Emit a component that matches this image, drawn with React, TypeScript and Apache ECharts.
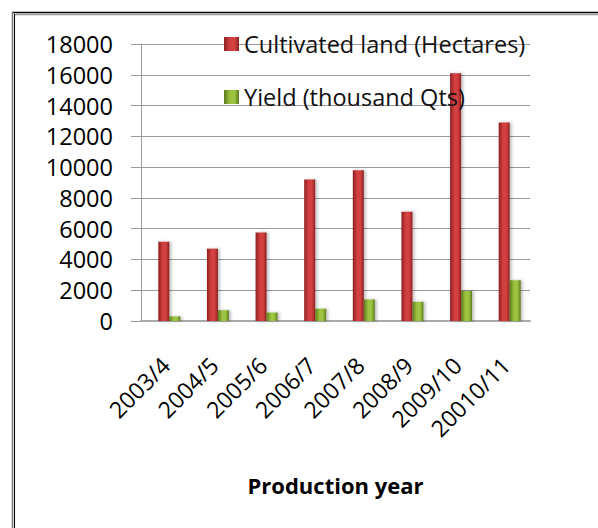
import React, { useEffect, useRef } from "react";
import * as echarts from "echarts";

const categories = ["2003/4", "2004/5", "2005/6", "2006/7", "2007/8", "2008/9", "2009/10", "20010/11"];
const cultivatedLand = [5150, 4700, 5750, 9200, 9800, 7100, 16100, 12900];
const yieldQts = [300, 700, 550, 800, 1400, 1250, 1950, 2650];
const seriesNames = ["Cultivated land (Hectares)", "Yield (thousand Qts)"];
const xAxisTitle = "Production year";
const spacer = categories.map(() => null);

const FONT = "'Open Sans', Lato, sans-serif";

function hGrad(dark: string, light: string) {
  return new echarts.graphic.LinearGradient(0, 0, 1, 0, [
    { offset: 0, color: dark },
    { offset: 0.4, color: light },
    { offset: 0.7, color: light },
    { offset: 1, color: dark },
  ]);
}

export default function App() {
  const ref = useRef<HTMLDivElement>(null);
  useEffect(() => {
    if (!ref.current) return;
    const chart = echarts.init(ref.current, undefined, { renderer: "svg" });
    chart.setOption({
      animation: false,
      backgroundColor: "#fff",
      textStyle: { fontFamily: FONT },
      grid: { left: 141, right: 68, top: 44, bottom: 207, containLabel: false },
      legend: {
        orient: "vertical",
        left: 219,
        top: 27,
        itemWidth: 15,
        itemHeight: 14,
        itemGap: 29,
        icon: "rect",
        textStyle: { fontSize: 23.5, color: "#111", fontFamily: FONT },
        data: seriesNames,
      },
      xAxis: {
        type: "category",
        data: categories,
        name: xAxisTitle,
        nameLocation: "middle",
        nameGap: 153,
        nameTextStyle: { fontSize: 22, fontWeight: "bold", color: "#000", fontFamily: FONT },
        axisLine: { show: true, lineStyle: { color: "#aaa", width: 2 } },
        axisTick: { show: false },
        axisLabel: { rotate: 45, margin: 40, fontSize: 23, color: "#000", fontFamily: FONT },
      },
      yAxis: {
        type: "value",
        min: 0,
        max: 18000,
        interval: 2000,
        axisLine: { show: true, lineStyle: { color: "#999", width: 1 } },
        axisTick: { show: true, length: 10, lineStyle: { color: "#999" } },
        splitLine: { show: true, lineStyle: { color: "#999", width: 1 } },
        axisLabel: {
          fontSize: 23.5,
          color: "#000",
          margin: 28,
          fontFamily: FONT,
          formatter: (v: number) => String(v),
        },
      },
      series: [
        {
          name: "spacer",
          type: "bar",
          data: spacer,
          barWidth: 8,
          barGap: "0%",
          silent: true,
          itemStyle: { color: "transparent" },
        },
        {
          name: seriesNames[0],
          type: "bar",
          data: cultivatedLand,
          barWidth: 11,
          barGap: "0%",
          itemStyle: {
            color: hGrad("#8e1f20", "#d2403f"),
            shadowColor: "rgba(0,0,0,0.25)",
            shadowBlur: 3,
            shadowOffsetX: 2,
          },
        },
        {
          name: seriesNames[1],
          type: "bar",
          data: yieldQts,
          barWidth: 11,
          barGap: "0%",
          itemStyle: {
            color: hGrad("#5b7a1c", "#9cc440"),
            shadowColor: "rgba(0,0,0,0.25)",
            shadowBlur: 3,
            shadowOffsetX: 2,
          },
        },
      ],
      graphic: [
        { type: "line", shape: { x1: 12, y1: 12.5, x2: 598, y2: 12.5 }, style: { stroke: "#000", lineWidth: 1.5 } },
        { type: "line", shape: { x1: 14, y1: 14.5, x2: 598, y2: 14.5 }, style: { stroke: "#999", lineWidth: 1.5 } },
        { type: "line", shape: { x1: 12.5, y1: 12, x2: 12.5, y2: 528 }, style: { stroke: "#777", lineWidth: 1.5 } },
        { type: "line", shape: { x1: 14.5, y1: 14, x2: 14.5, y2: 528 }, style: { stroke: "#000", lineWidth: 1 } },
      ],
    });
    return () => chart.dispose();
  }, []);
  return <div ref={ref} style={{ width: 598, height: 528, position: "absolute", left: 0, top: 0 }} />;
}
